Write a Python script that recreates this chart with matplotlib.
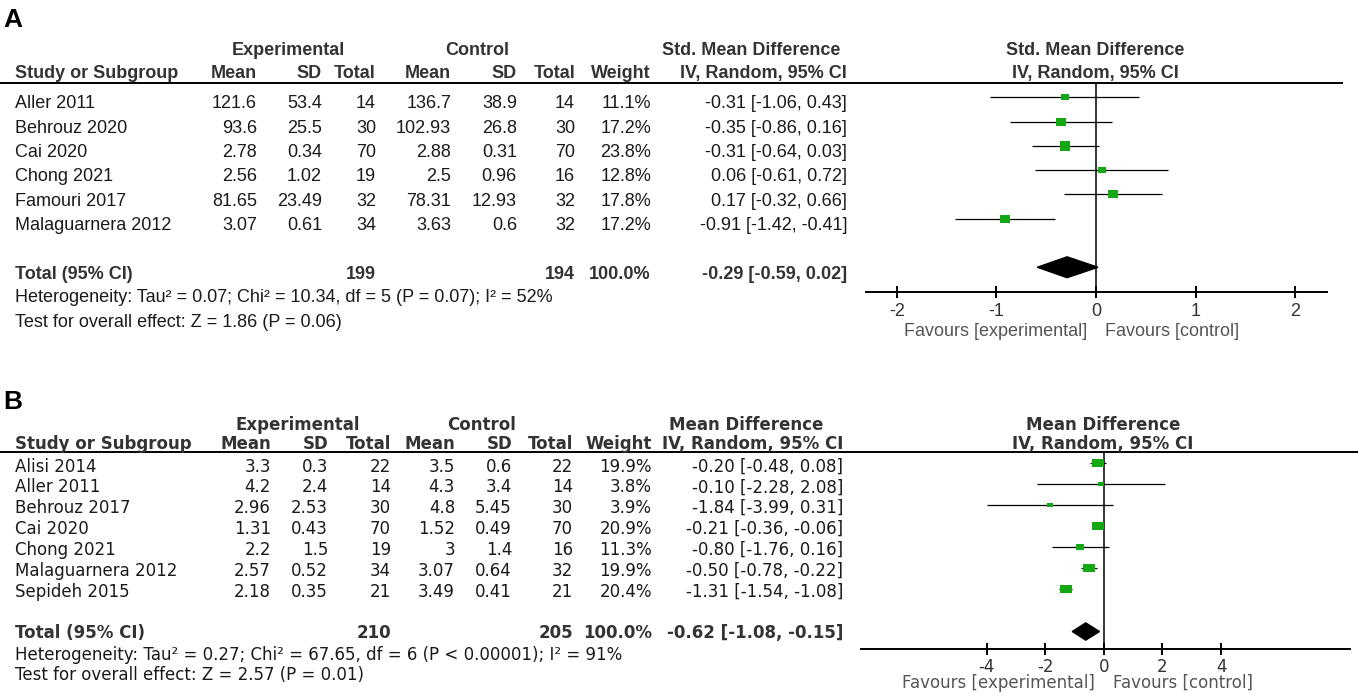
import numpy as np
import matplotlib.pyplot as plt
from matplotlib.patches import Polygon

plt.rcParams['axes.unicode_minus'] = False

# ---------------- panel A : Std. mean difference ----------------
a_study = ['Aller 2011', 'Behrouz 2020', 'Cai 2020', 'Chong 2021', 'Famouri 2017', 'Malaguarnera 2012']
a_exp_mean = [121.6, 93.6, 2.78, 2.56, 81.65, 3.07]
a_exp_sd = [53.4, 25.5, 0.34, 1.02, 23.49, 0.61]
a_exp_n = [14, 30, 70, 19, 32, 34]
a_ctl_mean = [136.7, 102.93, 2.88, 2.5, 78.31, 3.63]
a_ctl_sd = [38.9, 26.8, 0.31, 0.96, 12.93, 0.6]
a_ctl_n = [14, 30, 70, 16, 32, 32]
a_weight = [11.1, 17.2, 23.8, 12.8, 17.8, 17.2]
a_est = [-0.31, -0.35, -0.31, 0.06, 0.17, -0.91]
a_lo = [-1.06, -0.86, -0.64, -0.61, -0.32, -1.42]
a_hi = [0.43, 0.16, 0.03, 0.72, 0.66, -0.41]
a_total = [-0.29, -0.59, 0.02]
a_total_n = [199, 194]
a_het = 'Heterogeneity: Tau\u00b2 = 0.07; Chi\u00b2 = 10.34, df = 5 (P = 0.07); I\u00b2 = 52%'
a_test = 'Test for overall effect: Z = 1.86 (P = 0.06)'
a_ticks = [-2, -1, 0, 1, 2]

# ---------------- panel B : mean difference ----------------
b_study = ['Alisi 2014', 'Aller 2011', 'Behrouz 2017', 'Cai 2020', 'Chong 2021',
           'Malaguarnera 2012', 'Sepideh 2015']
b_exp_mean = [3.3, 4.2, 2.96, 1.31, 2.2, 2.57, 2.18]
b_exp_sd = [0.3, 2.4, 2.53, 0.43, 1.5, 0.52, 0.35]
b_exp_n = [22, 14, 30, 70, 19, 34, 21]
b_ctl_mean = [3.5, 4.3, 4.8, 1.52, 3, 3.07, 3.49]
b_ctl_sd = [0.6, 3.4, 5.45, 0.49, 1.4, 0.64, 0.41]
b_ctl_n = [22, 14, 30, 70, 16, 32, 21]
b_weight = [19.9, 3.8, 3.9, 20.9, 11.3, 19.9, 20.4]
b_est = [-0.20, -0.10, -1.84, -0.21, -0.80, -0.50, -1.31]
b_lo = [-0.48, -2.28, -3.99, -0.36, -1.76, -0.78, -1.54]
b_hi = [0.08, 2.08, 0.31, -0.06, 0.16, -0.22, -1.08]
b_total = [-0.62, -1.08, -0.15]
b_total_n = [210, 205]
b_het = 'Heterogeneity: Tau\u00b2 = 0.27; Chi\u00b2 = 67.65, df = 6 (P < 0.00001); I\u00b2 = 91%'
b_test = 'Test for overall effect: Z = 2.57 (P = 0.01)'
b_ticks = [-4, -2, 0, 2, 4]

GREEN = '#14a814'
W, H = 1358, 700

fig = plt.figure(figsize=(W / 100, H / 100), dpi=100)
bg = fig.add_axes([0, 0, 1, 1])
bg.set_xlim(0, W)
bg.set_ylim(H, 0)
bg.axis('off')


def txt(x, y, s, ha='left', bold=False, fam='Liberation Sans', size=13, color='#1a1a1a'):
    bg.text(x, y, s, ha=ha, va='baseline', family=fam, fontsize=size,
            fontweight='bold' if bold else 'normal', color=color)


def table(p, studies, cols, weight, est, lo, hi, total, total_n, het, test):
    # p = layout dict for one panel
    f, fs = p['font'], p['size']
    hc = '#333333'
    txt(3, p['label_y'], p['label'], bold=True, fam='Liberation Sans', size=19, color='black')
    txt(p['exp_c'], p['h1'], 'Experimental', ha='center', bold=True, fam=f, size=fs, color=hc)
    txt(p['ctl_c'], p['h1'], 'Control', ha='center', bold=True, fam=f, size=fs, color=hc)
    txt(p['ci_h1'], p['h1'], p['measure'], ha='right', bold=True, fam=f, size=fs, color=hc)
    txt(p['plot_c'], p['h1'], p['measure'], ha='center', bold=True, fam=f, size=fs, color=hc)
    txt(15, p['h2'], 'Study or Subgroup', bold=True, fam=f, size=fs, color=hc)
    for name, x in zip(['Mean', 'SD', 'Total', 'Mean', 'SD', 'Total', 'Weight'], p['cols']):
        txt(x, p['h2'], name, ha='right', bold=True, fam=f, size=fs, color=hc)
    txt(p['ci_r'], p['h2'], 'IV, Random, 95% CI', ha='right', bold=True, fam=f, size=fs, color=hc)
    txt(p['plot_c'], p['h2'], 'IV, Random, 95% CI', ha='center', bold=True, fam=f, size=fs, color=hc)
    bg.hlines(p['line_y'], 0, p['line_end'], color='black', lw=1.4)

    for i, s in enumerate(studies):
        y = p['row0'] + i * p['step']
        txt(15, y, s, fam=f, size=fs)
        vals = [str(c[i]) for c in cols] + ['%.1f%%' % weight[i]]
        for v, x in zip(vals, p['cols']):
            txt(x, y, v, ha='right', fam=f, size=fs)
        txt(p['ci_r'], y, '%.2f [%.2f, %.2f]' % (est[i], lo[i], hi[i]), ha='right', fam=f, size=fs)

    yt = p['row0'] + (len(studies) + 1) * p['step']
    txt(15, yt, 'Total (95% CI)', bold=True, fam=f, size=fs, color=hc)
    txt(p['cols'][2], yt, str(total_n[0]), ha='right', bold=True, fam=f, size=fs, color=hc)
    txt(p['cols'][5], yt, str(total_n[1]), ha='right', bold=True, fam=f, size=fs, color=hc)
    txt(p['cols'][6], yt, '100.0%', ha='right', bold=True, fam=f, size=fs, color=hc)
    txt(p['ci_r'], yt, '%.2f [%.2f, %.2f]' % tuple(total), ha='right', bold=True, fam=f, size=fs, color=hc)
    txt(15, p['het_y'], het, fam=f, size=fs)
    txt(15, p['test_y'], test, fam=f, size=fs)
    txt(p['zero_px'] - 9, p['fav_y'], 'Favours [experimental]', ha='right', fam=f, size=fs, color='#555555')
    txt(p['zero_px'] + 9, p['fav_y'], 'Favours [control]', fam=f, size=fs, color='#555555')


def forest(p, est, lo, hi, weight, total, ticks):
    x0, x1, ytop, ybot = p['ax_px']
    ax = fig.add_axes([x0 / W, 1 - ybot / H, (x1 - x0) / W, (ybot - ytop) / H])
    ax.patch.set_alpha(0)
    n = len(est)
    y = np.arange(n)
    ax.hlines(y, lo, hi, color='black', lw=0.9, zorder=2)
    a = p['sq_aspect']
    verts = [(-1, -a), (1, -a), (1, a), (-1, a), (-1, -a)]
    for yi, e, w in zip(y, est, weight):
        ax.plot(e, yi, marker=verts, ms=p['sq_k'] * np.sqrt(w), color=GREEN,
                mew=0, ls='none', zorder=3)
    yt = n + 1
    h = p['dia_h']
    ax.add_patch(Polygon([(total[1], yt), (total[0], yt - h), (total[2], yt), (total[0], yt + h)],
                         closed=True, color='black', zorder=3))
    ax.axvline(0, color='black', lw=1.1, zorder=1)
    ax.set_xlim(p['xlim'])
    ax.set_ylim(p['ylim'])
    for s in ['top', 'left', 'right']:
        ax.spines[s].set_visible(False)
    ax.spines['bottom'].set_linewidth(1.4)
    ax.set_yticks([])
    ax.set_xticks(ticks)
    ax.set_xticklabels([str(t) for t in ticks], family=p['font'], fontsize=p['size'], color='#333333')
    ax.tick_params(axis='x', direction='inout', length=p['tick_len'], width=1.4, pad=p['tick_pad'])
    return ax


pa = dict(label='A', label_y=27, font='Liberation Sans', size=13, measure='Std. Mean Difference',
          h1=55, h2=78, line_y=82.5, line_end=1343, exp_c=288, ctl_c=477, ci_h1=840, ci_r=847,
          plot_c=1095, cols=[257, 322, 376, 451, 517, 575, 651], row0=108.5, step=24.3,
          het_y=302, test_y=327, fav_y=336, zero_px=1096,
          ax_px=(866, 1327, 82.5, 292), xlim=(-2.31, 2.32), ylim=(8.02, -0.617),
          sq_k=1.6, sq_aspect=0.85, dia_h=0.43, tick_len=9, tick_pad=3.4)
pb = dict(label='B', label_y=409, font='DejaVu Sans', size=12, measure='Mean Difference',
          h1=430, h2=449, line_y=452, line_end=1358, exp_c=298, ctl_c=482, ci_h1=823, ci_r=843,
          plot_c=1103, cols=[271, 328, 391, 455, 512, 573, 652], row0=471.5, step=20.85,
          het_y=660, test_y=680, fav_y=688, zero_px=1104,
          ax_px=(861, 1350, 452, 649), xlim=(-8.29, 8.40), ylim=(8.83, -0.513),
          sq_k=1.85, sq_aspect=0.62, dia_h=0.41, tick_len=8, tick_pad=2.5)

table(pa, a_study, [a_exp_mean, a_exp_sd, a_exp_n, a_ctl_mean, a_ctl_sd, a_ctl_n],
      a_weight, a_est, a_lo, a_hi, a_total, a_total_n, a_het, a_test)
table(pb, b_study, [b_exp_mean, b_exp_sd, b_exp_n, b_ctl_mean, b_ctl_sd, b_ctl_n],
      b_weight, b_est, b_lo, b_hi, b_total, b_total_n, b_het, b_test)
forest(pa, a_est, a_lo, a_hi, a_weight, a_total, a_ticks)
forest(pb, b_est, b_lo, b_hi, b_weight, b_total, b_ticks)

fig.savefig('out.png', dpi=100)
